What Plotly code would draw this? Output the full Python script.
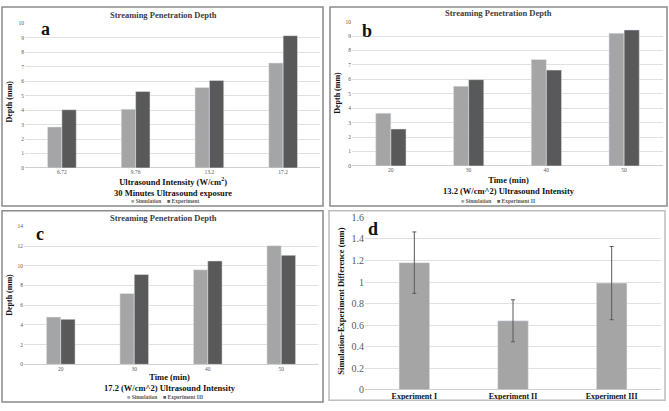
import plotly.graph_objects as go

W, H = 669, 411

# ---------------- data ----------------
a_cats = ["6.72", "9.76", "13.2", "17.2"]
a_sim = [2.84, 4.07, 5.57, 7.27]
a_exp = [4.03, 5.29, 6.06, 9.16]

b_cats = ["20", "30", "40", "50"]
b_sim = [3.66, 5.53, 7.38, 9.20]
b_exp = [2.56, 5.98, 6.64, 9.42]

c_cats = ["20", "30", "40", "50"]
c_sim = [4.80, 7.20, 9.60, 12.05]
c_exp = [4.57, 9.12, 10.50, 11.07]

d_cats = ["Experiment I", "Experiment II", "Experiment III"]
d_vals = [1.18, 0.64, 0.99]
d_err = [0.285, 0.195, 0.34]

SIM = "#a5a5a5"
EXP = "#595959"
FONT = "Liberation Serif"
GRID = "#e0e0e0"


def px(x):
    return x / W


def py(y):
    return 1 - y / H


fig = go.Figure()

BW = 0.195
panels = [
    ("x", "y", a_cats, a_sim, a_exp),
    ("x2", "y2", b_cats, b_sim, b_exp),
    ("x3", "y3", c_cats, c_sim, c_exp),
]
for xa, ya, cats, sim, exp in panels:
    fig.add_trace(go.Bar(x=cats, y=sim, xaxis=xa, yaxis=ya, marker_color=SIM,
                         width=BW, offset=-BW, showlegend=False, name="Simulation"))
    fig.add_trace(go.Bar(x=cats, y=exp, xaxis=xa, yaxis=ya, marker_color=EXP,
                         width=BW, offset=0, showlegend=False, name="Experiment"))

fig.add_trace(go.Bar(x=d_cats, y=d_vals, xaxis="x4", yaxis="y4", marker_color=SIM,
                     width=0.31, offset=-0.155, showlegend=False,
                     error_y=dict(type="data", array=d_err, visible=True,
                                  color="#595959", thickness=1, width=2)))


def xax(dom, anchor, size=5.5, bold=False, color="#595959"):
    return dict(domain=[px(dom[0]), px(dom[1])], anchor=anchor, type="category",
                showgrid=False, zeroline=False, showline=False, ticks="",
                tickfont=dict(family=FONT, size=size, color=color,
                              weight="bold" if bold else "normal"),
                fixedrange=True)


def yax(dom, anchor, rng, dtick, size=5.5):
    return dict(domain=[py(dom[1]), py(dom[0])], anchor=anchor, range=rng, dtick=dtick,
                showgrid=True, gridcolor=GRID, gridwidth=1, zeroline=True,
                zerolinecolor="#d0d0d0", zerolinewidth=1, showline=False, ticks="",
                tickfont=dict(family=FONT, size=size, color="#595959"), fixedrange=True)


fig.update_layout(
    width=W, height=H, margin=dict(l=0, r=0, t=0, b=0),
    paper_bgcolor="white", plot_bgcolor="white", barmode="overlay",
    xaxis=xax((25, 320), "y"),
    yaxis=yax((19, 167), "x", [0, 10], 1),
    xaxis2=xax((352, 663), "y2"),
    yaxis2=yax((17, 165), "x2", [0, 10], 1),
    xaxis3=xax((24, 318), "y3"),
    yaxis3=yax((227, 368.3), "x3", [0, 14], 2),
    xaxis4=xax((365, 661), "y4", size=8, bold=True, color="#111111"),
    yaxis4=yax((217.7, 394.3), "x4", [0, 1.6], 0.2, size=10),
)

# panel borders
borders = [
    ((2, 2, 323, 206), "#8a8a8a"),
    ((330, 2, 667, 206), "#8a8a8a"),
    ((2, 211, 323, 407), "#8a8a8a"),
    ((329, 211, 665, 405), "#bdbdbd"),
]
for (x0, y0, x1, y1), col in borders:
    fig.add_shape(type="rect", xref="paper", yref="paper",
                  x0=px(x0), x1=px(x1), y0=py(y1), y1=py(y0),
                  line=dict(color=col, width=1.5), fillcolor="rgba(0,0,0,0)")


def ann(text, x, y, size, color="#111111", angle=0, bold=True):
    fig.add_annotation(text=("<b>%s</b>" % text) if bold else text,
                       xref="paper", yref="paper", x=px(x), y=py(y),
                       xanchor="center", yanchor="middle", showarrow=False,
                       textangle=angle, font=dict(family=FONT, size=size, color=color))


def legend(x, y, exp_name):
    txt = ("<span style='color:%s'>■</span><b> Simulation</b>"
           "    <span style='color:%s'>■</span><b> %s</b>") % (SIM, EXP, exp_name)
    fig.add_annotation(text=txt, xref="paper", yref="paper", x=px(x), y=py(y),
                       xanchor="center", yanchor="middle", showarrow=False,
                       font=dict(family=FONT, size=5.5, color="#595959"))


# panel a
ann("Streaming Penetration Depth", 163, 10, 8.5, "#404040")
ann("a", 45, 25, 18)
ann("Depth (mm)", 10, 99, 8, angle=-90)
ann("Ultrasound Intensity (W/cm<sup>2</sup>)<br>30 Minutes Ultrasound exposure", 173, 186.5, 8.5)
legend(165, 201, "Experiment")

# panel b
ann("Streaming Penetration Depth", 498, 8, 8.5, "#404040")
ann("b", 367, 27, 18)
ann("Depth (mm)", 338, 90, 8, angle=-90)
ann("Time (min)<br>13.2 (W/cm^2) Ultrasound Intensity", 509, 185.5, 8.5)
legend(498, 201, "Experiment II")

# panel c
ann("Streaming Penetration Depth", 163, 218, 8.5, "#404040")
ann("c", 40, 235, 18)
ann("Depth (mm)", 10, 297, 8, angle=-90)
ann("Time (min)<br>17.2 (W/cm^2) Ultrasound Intensity", 170, 386.5, 8.5)
legend(165, 402, "Experiment III")

# panel d
ann("d", 373, 230, 18)
ann("Simulation-Experiment Difference (mm)", 341, 303, 8.5, angle=-90)

fig.write_html("out.html", config={"displayModeBar": False},
               post_script="document.body.style.margin='0';document.body.style.overflow='hidden';")
